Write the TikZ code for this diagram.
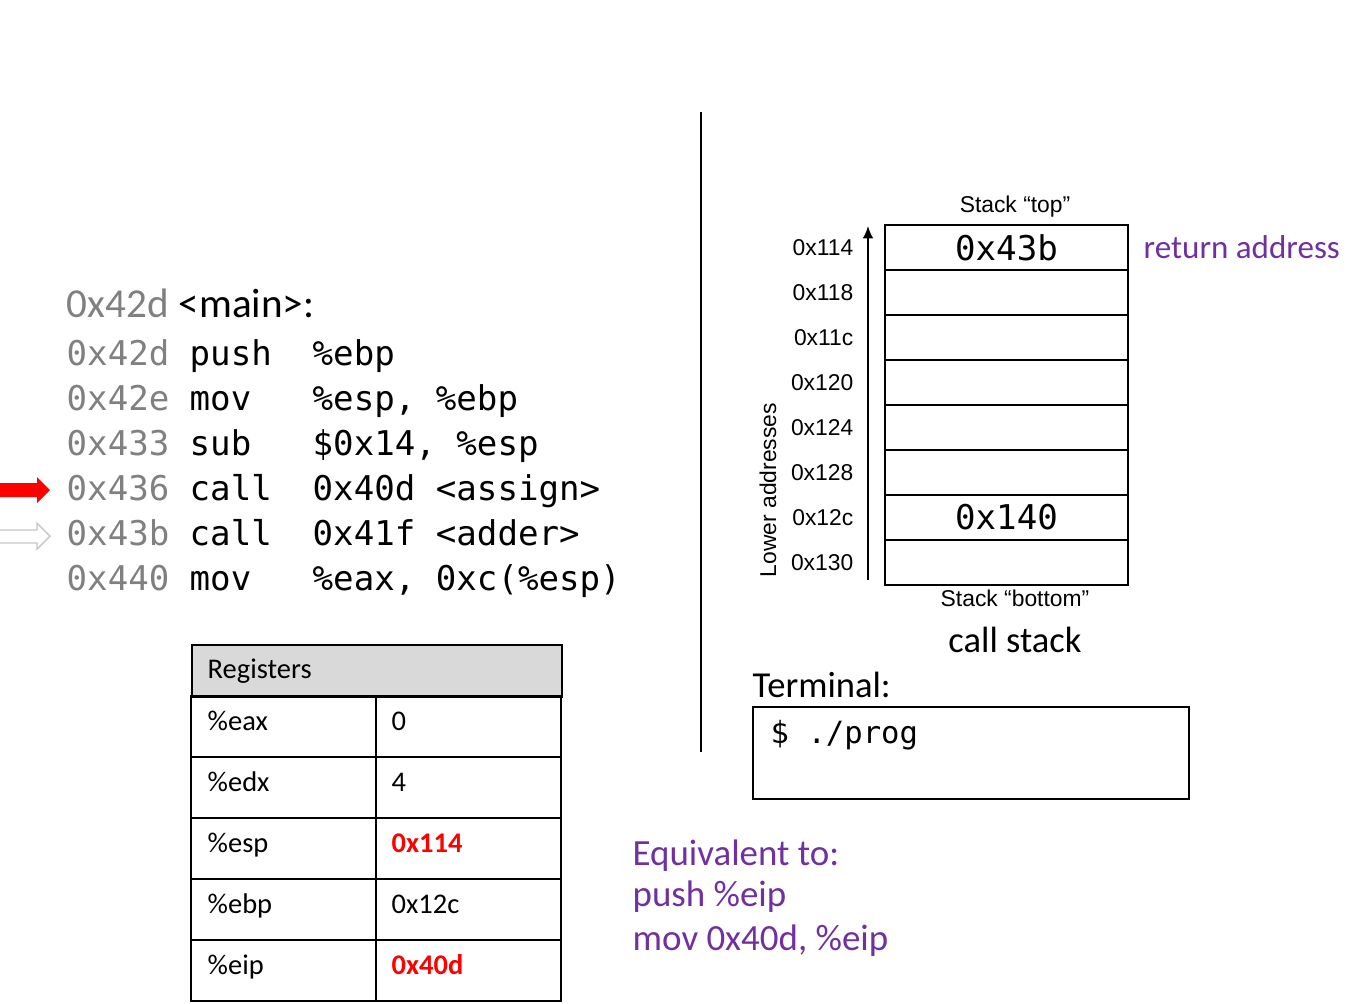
\documentclass[tikz,border=0pt]{standalone}
\usepackage{fontspec}
\setmainfont{Carlito}
\newfontfamily\codefont{DejaVu Sans Mono}
\newfontfamily\arialfont{Liberation Sans}
\usetikzlibrary{arrows.meta}
\definecolor{addrgray}{HTML}{808080}
\definecolor{notepurple}{HTML}{7030A0}
\definecolor{headgray}{HTML}{D9D9D9}

\begin{document}
\begin{tikzpicture}[x=0.01cm, y=-0.01cm,
    code/.style={anchor=base west, inner sep=0pt, font=\fontsize{9.7}{11}\codefont},
    addr/.style={code, text=addrgray},
    lbl/.style={inner sep=0pt, font=\fontsize{6.5}{8}\arialfont},
    reg/.style={anchor=base west, inner sep=0pt, font=\fontsize{8.1}{10}\selectfont},
    note/.style={anchor=base west, inner sep=0pt, text=notepurple, font=\fontsize{10.5}{12}\selectfont},
    cell/.style={draw, line width=0.6pt}]
    \useasboundingbox (0,0) rectangle (1349,1003);

    % code listing
    \node[anchor=base west, inner sep=0pt, text=addrgray, font=\fontsize{11.7}{14}\selectfont] (m0) at (66,317) {0x42d};
    \node[anchor=base west, inner sep=0pt, font=\fontsize{11.7}{14}\selectfont] (m1) at (178,317) {<main>:};
    \foreach \y/\a/\op/\arg [count=\n] in {365/0x42d/push/\%ebp, 410/0x42e/mov/{\%esp, \%ebp},
            455/0x433/sub/{\$0x14, \%esp}, 500/0x436/call/{0x40d <assign>},
            545/0x43b/call/{0x41f <adder>}, 590/0x440/mov/{\%eax, 0xc(\%esp)}} {
        \node[addr] (a\n) at (66,\y) {\a};
        \node[code] (o\n) at (189,\y) {\op};
        \node[code] (g\n) at (312,\y) {\arg};
    }
    \fill[red] (0,483) -- (37,483) -- (37,477) -- (50,490) -- (37,503) -- (37,497) -- (0,497) -- cycle;
    \draw[gray!45, fill=white] (0,530) -- (37,530) -- (37,523) -- (50,536) -- (37,549) -- (37,543) -- (0,543);

    % divider
    \coordinate (d0) at (701,112);
    \coordinate (d1) at (701,752);
    \draw[line width=0.4pt] (d0) -- (d1);

    % call stack
    \foreach \a/\v [count=\n from 0] in {0x114/0x43b, 0x118/{}, 0x11c/{}, 0x120/{}, 0x124/{},
            0x128/{}, 0x12c/0x140, 0x130/{}} {
        \node[cell, minimum width=2.43cm, minimum height=0.45cm, inner sep=0pt,
            font=\fontsize{9.7}{11}\codefont] (s\n) at (1006.5,{247.5+45*\n}) {\v};
        \node[lbl, anchor=east] (l\n) at (854,{247.5+45*\n}) {\a};
    }
    \node[lbl, anchor=base] (top) at (1015,212) {Stack “top”};
    \node[lbl, anchor=base] (bot) at (1015,606) {Stack “bottom”};
    \node[anchor=base, inner sep=0pt, font=\fontsize{10.4}{12}\selectfont] (cs) at (1015,652) {call stack};
    \node[anchor=base west, inner sep=0pt, text=notepurple, font=\fontsize{9.4}{11}\selectfont] (ret) at (1143,258) {return address};
    \node[lbl, rotate=90, anchor=base] (low) at (776,490) {Lower addresses};
    \coordinate (lo) at (868,580);
    \coordinate (hi) at (868,226);
    \draw[-{Latex[length=3.5pt,width=3pt]}, line width=0.5pt] (lo) -- (hi);

    % terminal
    \node[anchor=base west, inner sep=0pt, font=\fontsize{10.4}{12}\selectfont] (term) at (752,697) {Terminal:};
    \node[cell, anchor=north west, minimum width=4.36cm, minimum height=0.92cm, inner sep=0pt] (tbox) at (752,706) {};
    \node[code, font=\fontsize{8.7}{10}\codefont] (cmd) at (770,743) {\$ ./prog};

    % registers
    \node[cell, fill=headgray, anchor=north west, minimum width=3.7cm, minimum height=0.52cm, inner sep=0pt] (rh) at (191,644) {};
    \node[reg] (rt) at (207,678) {Registers};
    \foreach \r/\v [count=\n from 0] in {\%eax/0, \%edx/4, \%esp/{\textcolor{red}{\bfseries 0x114}},
            \%ebp/0x12c, \%eip/{\textcolor{red}{\bfseries 0x40d}}} {
        \draw[cell] (191,{696+61*\n}) rectangle (376,{757+61*\n});
        \draw[cell] (376,{696+61*\n}) rectangle (561,{757+61*\n});
        \node[reg] (r\n) at (207,{730+61*\n}) {\r};
        \node[reg] (v\n) at (391,{730+61*\n}) {\v};
    }

    % note
    \node[note] (e0) at (632,865) {Equivalent to:};
    \node[note] (e1) at (632,906) {push \%eip};
    \node[note] (e2) at (632,950) {mov 0x40d, \%eip};
\end{tikzpicture}
\end{document}
